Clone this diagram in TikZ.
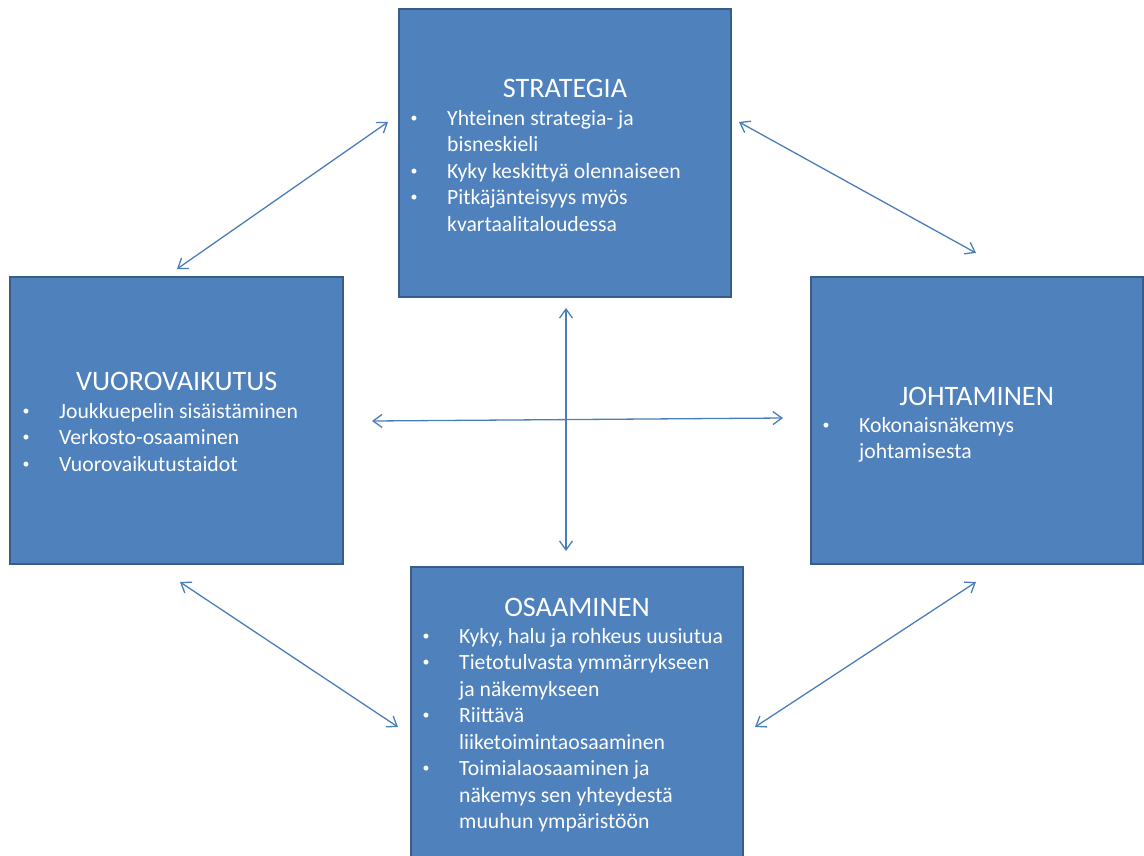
\documentclass[tikz,border=0pt]{standalone}
\usepackage{fontspec}
\setmainfont{Carlito}
\usetikzlibrary{arrows.meta}
\definecolor{boxfill}{HTML}{4F81BD}
\definecolor{boxline}{HTML}{385D8A}
\definecolor{linkblue}{HTML}{4A7EBB}
% small round bullet, centred on the item's left edge
\newcommand\bul{\makebox[0pt][c]{\raisebox{3pt}{\fontsize{14}{14}\selectfont\textbullet}}}
% one bullet item with hanging indent (continuation lines via \newline)
\newcommand\itm[1]{\par\noindent\hangindent=33pt\relax\makebox[33pt][l]{\bul}#1}
% a block of bullet items, aligned on the first baseline
\newcommand\itemlist[1]{\parbox[t]{330pt}{\fontsize{21.7}{26.5}\selectfont\raggedright #1}}
\begin{document}
\begin{tikzpicture}[x=1pt,y=-1pt,
  box/.style={draw=boxline, line width=2.5pt, fill=boxfill, inner sep=0pt},
  boxtitle/.style={text=white, font=\fontsize{28.2}{34}\selectfont, anchor=base, inner sep=0pt},
  boxlist/.style={text=white, anchor=base west, inner sep=0pt},
  linkarrow/.style={draw=linkblue, line width=1.3pt,
    {Straight Barb[length=9pt,width=13pt]}-{Straight Barb[length=9pt,width=13pt]}}]
\useasboundingbox (0,0) rectangle (1144,855);
\clip (0,0) rectangle (1144,855);

% boxes
\node[box, minimum width=332pt, minimum height=288pt] (strat) at (565,153) {};
\node[box, minimum width=333pt, minimum height=287pt] (vuoro) at (176.5,420.5) {};
\node[box, minimum width=332pt, minimum height=287pt] (johto) at (977,420.5) {};
\node[box, minimum width=332pt, minimum height=300pt] (osaa) at (577,717) {};

% STRATEGIA
\node[boxtitle] (stratT) at (565,97) {STRATEGIA};
\node[boxlist] (stratL) at (414,125) {\itemlist{%
  \itm{Yhteinen strategia- ja\newline bisneskieli}
  \itm{Kyky keskittyä olennaiseen}
  \itm{Pitkäjänteisyys myös\newline kvartaalitaloudessa}}};

% VUOROVAIKUTUS
\node[boxtitle] (vuoroT) at (176.7,390) {VUOROVAIKUTUS};
\node[boxlist] (vuoroL) at (26,418) {\itemlist{%
  \itm{Joukkuepelin sisäistäminen}
  \itm{Verkosto-osaaminen}
  \itm{Vuorovaikutustaidot}}};

% JOHTAMINEN
\node[boxtitle] (johtoT) at (976.7,405) {JOHTAMINEN};
\node[boxlist] (johtoL) at (826,432) {\itemlist{%
  \itm{Kokonaisnäkemys\newline johtamisesta}}};

% OSAAMINEN
\node[boxtitle] (osaaT) at (577,616) {OSAAMINEN};
\node[boxlist] (osaaL) at (426,643) {\itemlist{%
  \itm{Kyky, halu ja rohkeus uusiutua}
  \itm{Tietotulvasta ymmärrykseen\newline ja näkemykseen}
  \itm{Riittävä\newline liiketoimintaosaaminen}
  \itm{Toimialaosaaminen ja\newline näkemys sen yhteydestä\newline muuhun ympäristöön}}};

% connector ends
\coordinate (sv1) at (388,122);  \coordinate (sv2) at (177,269);
\coordinate (sj1) at (739,122);  \coordinate (sj2) at (976,253);
\coordinate (so1) at (566,308);  \coordinate (so2) at (566,551);
\coordinate (vj1) at (372,421);  \coordinate (vj2) at (783,418);
\coordinate (vo1) at (180,582);  \coordinate (vo2) at (398,727);
\coordinate (jo1) at (976,582);  \coordinate (jo2) at (755,727);

% connectors
\draw[linkarrow] (sv1) -- (sv2);
\draw[linkarrow] (sj1) -- (sj2);
\draw[linkarrow] (so1) -- (so2);
\draw[linkarrow] (vj1) -- (vj2);
\draw[linkarrow] (vo1) -- (vo2);
\draw[linkarrow] (jo1) -- (jo2);
\end{tikzpicture}
\end{document}
